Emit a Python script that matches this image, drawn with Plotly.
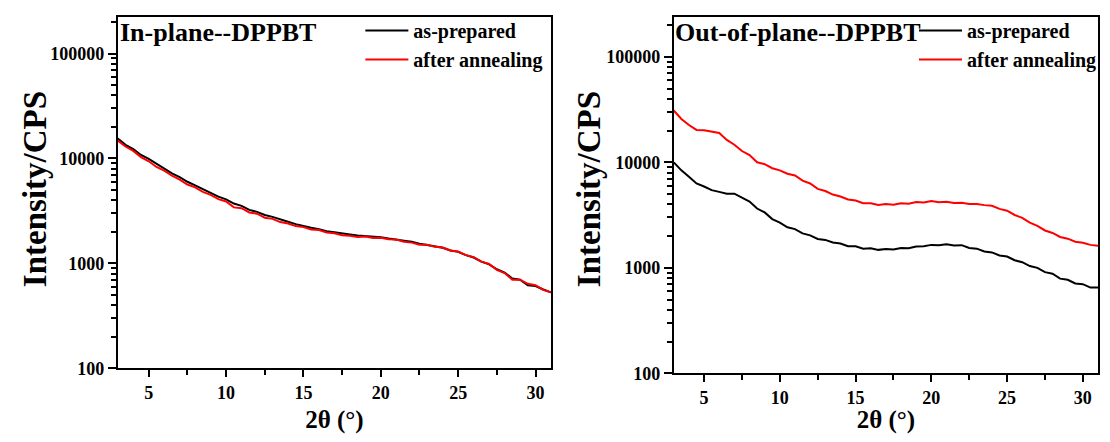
import plotly.graph_objects as go

two_theta = [3.0, 3.5, 4.0, 4.5, 5.0, 5.5, 6.0, 6.5, 7.0, 7.5, 8.0, 8.5, 9.0, 9.5,
             10.0, 10.5, 11.0, 11.5, 12.0, 12.5, 13.0, 13.5, 14.0, 14.5, 15.0, 15.5,
             16.0, 16.5, 17.0, 17.5, 18.0, 18.5, 19.0, 19.5, 20.0, 20.5, 21.0, 21.5,
             22.0, 22.5, 23.0, 23.5, 24.0, 24.5, 25.0, 25.5, 26.0, 26.5, 27.0, 27.5,
             28.0, 28.5, 29.0, 29.5, 30.0, 30.5, 31.0]

in_plane_prepared = [15500, 13500, 12300, 10800, 9900, 8900, 8050, 7200, 6650, 6000,
                     5550, 5100, 4750, 4330, 4080, 3720, 3540, 3240, 3100, 2900,
                     2780, 2620, 2500, 2370, 2270, 2190, 2120, 2030, 1980, 1920,
                     1890, 1850, 1830, 1790, 1780, 1730, 1700, 1650, 1610, 1540,
                     1500, 1450, 1410, 1330, 1290, 1200, 1140, 1040, 980, 880,
                     820, 720, 700, 620, 610, 565, 530]
in_plane_annealed = [14800, 13000, 11800, 10300, 9400, 8300, 7650, 6850, 6300, 5650,
                     5300, 4800, 4500, 4100, 3900, 3420, 3360, 3060, 2980, 2730,
                     2660, 2480, 2400, 2270, 2220, 2110, 2080, 1970, 1940, 1860,
                     1840, 1790, 1810, 1750, 1760, 1700, 1690, 1610, 1580, 1510,
                     1510, 1440, 1420, 1330, 1300, 1200, 1150, 1040, 990, 870,
                     810, 700, 700, 640, 620, 560, 530]

out_plane_prepared = [10000, 8400, 7300, 6300, 5900, 5450, 5250, 5050, 5050, 4650,
                      4250, 3650, 3350, 2900, 2680, 2420, 2330, 2120, 2030, 1880,
                      1840, 1740, 1700, 1600, 1600, 1520, 1530, 1480, 1510, 1490,
                      1540, 1530, 1590, 1600, 1650, 1640, 1670, 1630, 1640, 1540,
                      1520, 1430, 1400, 1310, 1280, 1180, 1130, 1040, 1000, 910,
                      880, 790, 770, 710, 700, 650, 650]
out_plane_annealed = [31000, 25800, 22600, 20300, 20100, 19400, 19000, 16300, 14700, 12800,
                      11700, 10000, 9600, 8800, 8400, 7800, 7500, 6700, 6300, 5600,
                      5350, 4950, 4750, 4450, 4350, 4100, 4100, 3950, 4020, 3960,
                      4100, 4060, 4200, 4160, 4300, 4180, 4230, 4120, 4130, 4020,
                      4030, 3930, 3880, 3620, 3480, 3170, 2980, 2680, 2500, 2260,
                      2140, 1960, 1890, 1770, 1730, 1650, 1620]

panel_titles = ["In-plane--DPPBT", "Out-of-plane--DPPBT"]
series_names = ["as-prepared", "after annealing"]
x_ticks = [5, 10, 15, 20, 25, 30]
y_ticks = [100, 1000, 10000, 100000]
x_label = "2θ (°)"
y_label = "Intensity/CPS"

FONT = "Liberation Serif"
W, H = 1094, 426   # fits inside the page body (8px margin on every side)

fig = go.Figure()

fig.add_trace(go.Scatter(x=two_theta, y=in_plane_prepared, mode="lines", name=series_names[0],
                         line=dict(color="black", width=2), xaxis="x", yaxis="y", legend="legend"))
fig.add_trace(go.Scatter(x=two_theta, y=in_plane_annealed, mode="lines", name=series_names[1],
                         line=dict(color="#ff0000", width=2), xaxis="x", yaxis="y", legend="legend"))
fig.add_trace(go.Scatter(x=two_theta, y=out_plane_prepared, mode="lines", name=series_names[0],
                         line=dict(color="black", width=2), xaxis="x2", yaxis="y2", legend="legend2"))
fig.add_trace(go.Scatter(x=two_theta, y=out_plane_annealed, mode="lines", name=series_names[1],
                         line=dict(color="#ff0000", width=2), xaxis="x2", yaxis="y2", legend="legend2"))


def xaxis(domain, anchor):
    return dict(domain=domain, anchor=anchor, range=[3, 31], showline=True, linecolor="black",
                linewidth=2, mirror=True, ticks="outside", ticklen=7, tickwidth=2, tickcolor="black",
                tickvals=x_ticks, showgrid=False, zeroline=False, ticklabelstandoff=0,
                tickfont=dict(family=FONT, size=18, color="black", weight="bold"),
                minor=dict(tickmode="linear", tick0=0, dtick=2.5, ticks="outside", ticklen=5,
                           tickwidth=2, tickcolor="black", showgrid=False),
                title=dict(text="<b>" + x_label + "</b>", font=dict(family=FONT, size=25, color="black"),
                           standoff=9))


def yaxis(domain, anchor, rng):
    return dict(domain=domain, anchor=anchor, type="log", range=rng, showline=True, linecolor="black",
                linewidth=2, mirror=True, ticks="outside", ticklen=8, tickwidth=2, tickcolor="black",
                tickvals=y_ticks, ticktext=[str(v) for v in y_ticks], showgrid=False, zeroline=False,
                tickfont=dict(family=FONT, size=18, color="black", weight="bold"),
                minor=dict(tickmode="linear", dtick="D1", ticks="outside", ticklen=5, tickwidth=2,
                           tickcolor="black", showgrid=False))


legend_font = dict(family=FONT, size=20, color="black", weight="bold")


def ytitle(xpx):
    return dict(text="<b>" + y_label + "</b>", xref="paper", yref="paper", x=xpx / W, y=1 - 186 / H,
                xanchor="center", yanchor="middle", textangle=-90, showarrow=False,
                font=dict(family=FONT, size=33, color="black"))


def ptitle(text, xpx):
    return dict(text="<b>" + text + "</b>", xref="paper", yref="paper", x=xpx / W, y=1 - 8 / H,
                xanchor="left", yanchor="top", showarrow=False, font=dict(family=FONT, size=26, color="black"))


fig.update_layout(
    width=W, height=H, margin=dict(l=0, r=0, t=0, b=0),
    paper_bgcolor="white", plot_bgcolor="white",
    xaxis=xaxis([110 / W, 544 / W], "y"),
    yaxis=yaxis([1 - 370 / H, 1 - 9 / H], "x", [2, 5.35]),
    xaxis2=xaxis([667 / W, 1092 / W], "y2"),
    yaxis2=yaxis([1 - 375 / H, 1 - 9 / H], "x2", [2, 5.38]),
    legend=dict(x=353 / W, y=1 - 3 / H, xanchor="left", yanchor="top", bgcolor="rgba(0,0,0,0)",
                font=legend_font, tracegroupgap=0, itemwidth=43),
    legend2=dict(x=908 / W, y=1 - 3 / H, xanchor="left", yanchor="top", bgcolor="rgba(0,0,0,0)",
                 font=legend_font, tracegroupgap=0, itemwidth=43),
    annotations=[ptitle(panel_titles[0], 110), ptitle(panel_titles[1], 666), ytitle(27), ytitle(582)],
)

fig.write_html("out.html")
